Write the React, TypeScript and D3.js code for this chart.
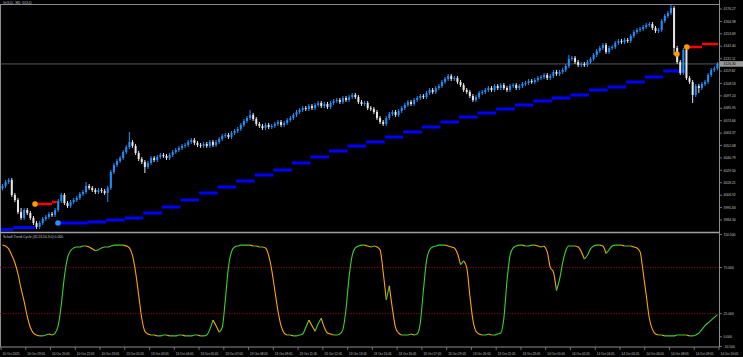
import React from "react";
import * as d3 from "d3";

// ---------- DATA ----------
const closes: number[] = [
  4015.3, 4018.9, 4020.7, 4007.1, 4002.5, 3991.6, 3986.2, 3993.4, 3990.7, 3986.2,
  3981.6, 3978.0, 3981.6, 3985.3, 3987.1, 3989.8, 3988.9, 3993.4, 4001.6, 4007.1,
  3999.8, 3997.1, 4000.7, 4002.5, 4004.4, 4008.0, 4009.8, 4015.3, 4013.5, 4011.6,
  4009.8, 4011.6, 4010.7, 4008.9, 4013.5, 4028.0, 4034.4, 4038.0, 4040.7, 4046.2,
  4050.7, 4055.3, 4051.7, 4045.3, 4039.8, 4037.1, 4032.6, 4036.2, 4040.7, 4038.9,
  4041.7, 4043.5, 4042.6, 4040.7, 4043.5, 4046.2, 4048.0, 4049.8, 4051.7, 4052.6,
  4055.3, 4057.1, 4054.4, 4052.6, 4051.7, 4053.5, 4051.7, 4055.3, 4052.6, 4055.3,
  4058.0, 4060.8, 4061.7, 4059.9, 4063.5, 4065.3, 4067.1, 4070.8, 4074.4, 4077.1,
  4079.9, 4076.2, 4071.7, 4069.9, 4068.0, 4070.8, 4068.9, 4069.9, 4071.7, 4073.5,
  4070.8, 4072.6, 4075.3, 4077.1, 4079.9, 4082.6, 4084.4, 4086.2, 4085.3, 4088.0,
  4086.2, 4089.0, 4090.8, 4088.0, 4089.9, 4087.1, 4090.8, 4092.6, 4093.5, 4091.7,
  4095.3, 4093.5, 4096.2, 4098.1, 4096.2, 4091.7, 4089.9, 4090.8, 4086.2, 4085.3,
  4082.6, 4077.1, 4073.5, 4071.7, 4077.1, 4080.8, 4082.6, 4079.9, 4083.5, 4086.2,
  4089.0, 4091.7, 4089.9, 4093.5, 4095.3, 4097.1, 4096.2, 4099.9, 4102.6, 4100.8,
  4104.4, 4106.2, 4109.9, 4112.6, 4115.3, 4112.6, 4113.5, 4109.9, 4107.1, 4102.6,
  4100.8, 4097.1, 4093.5, 4096.2, 4099.9, 4100.8, 4102.6, 4104.4, 4102.6, 4106.2,
  4104.4, 4107.1, 4104.4, 4102.6, 4106.2, 4107.1, 4104.4, 4106.2, 4108.1, 4109.0,
  4110.8, 4109.9, 4111.7, 4113.5, 4114.4, 4116.2, 4113.5, 4115.3, 4119.0, 4117.2,
  4119.0, 4120.8, 4124.4, 4130.8, 4131.7, 4128.1, 4125.3, 4126.3, 4125.3, 4128.1,
  4130.8, 4134.4, 4138.1, 4140.8, 4143.5, 4137.2, 4140.8, 4141.7, 4145.4, 4147.2,
  4146.3, 4148.1, 4147.2, 4151.7, 4155.4, 4157.2, 4158.1, 4159.9, 4161.7, 4162.6,
  4159.0, 4156.3, 4157.2, 4165.4, 4169.9, 4172.6, 4177.2, 4140.8, 4128.1, 4118.1,
  4139.0, 4113.5, 4109.9, 4098.1, 4106.2, 4104.4, 4108.1, 4109.9, 4116.2, 4120.8,
  4122.2, 4126.3,
];
const firstOpen = 4013.0;
const wickSize = 1.8;
const spikeHighs: [number, number][] = [
  [6, 3995.3], [27, 4018.9], [41, 4064.4], [80, 4084.4], [183, 4134.4], [216, 4179.9],
];
const spikeLows: [number, number][] = [
  [11, 3976.2], [34, 4000.7], [46, 4027.1], [123, 4069.9], [152, 4091.7],
  [217, 4134.4], [223, 4090.8], [225, 4099.9],
];

// trailing support (blue) and resistance (red) steps: [fromBar, toBar, price]
const supportSteps: [number, number, number][] = [
  [0, 4, 3975.8], [4, 11, 3977.6],
  [18.4, 28, 3981.6], [28, 34, 3982.5], [34, 40, 3984.3], [40, 46, 3986.2],
  [46, 52, 3990.7], [52, 58, 3996.2], [58, 64, 4002.5], [64, 70, 4008.9],
  [70, 76, 4014.4], [76, 82, 4019.8], [82, 88, 4025.3], [88, 94, 4029.8],
  [94, 100, 4036.2], [100, 106, 4041.7], [106, 112, 4047.1], [112, 118, 4051.7],
  [118, 124, 4055.3], [124, 130, 4059.9], [130, 136, 4064.4], [136, 142, 4068.9],
  [142, 148, 4073.5], [148, 154, 4078.0], [154, 160, 4081.7], [160, 166, 4085.3],
  [166, 172, 4089.0], [172, 178, 4092.6], [178, 184, 4095.3], [184, 190, 4098.1],
  [190, 196, 4102.6], [196, 202, 4105.3], [202, 208, 4109.9], [208, 214, 4114.4],
  [214, 221, 4119.9],
];
const resistSteps: [number, number, number][] = [
  [11, 16.5, 3998.9], [16.5, 18, 4000.7],
  [221.6, 226.5, 4141.7], [226.5, 231.7, 4144.4],
];
const blueDots: [number, number][] = [[18.4, 3981.6]];
const orangeDots: [number, number][] = [[11, 3998.9], [218.4, 4135.3], [221.6, 4141.7]];

const stc: number[] = [
  99, 98, 95, 88, 80, 68, 52, 38, 22, 10,
  4, 2, 1, 1, 2, 3, 2, 4, 12, 35,
  65, 85, 93, 96, 97, 97, 98, 98, 97, 95,
  93, 94, 96, 97, 97, 98, 99, 99, 99, 99,
  98, 96, 88, 70, 45, 20, 6, 3, 2, 2,
  1, 1, 2, 2, 1, 1, 1, 2, 2, 1,
  1, 1, 2, 2, 1, 1, 2, 8, 18, 12,
  5, 10, 40, 75, 92, 97, 98, 99, 99, 99,
  99, 98, 98, 97, 97, 96, 88, 72, 50, 28,
  12, 4, 2, 2, 1, 1, 2, 3, 10, 18,
  12, 6, 14, 20, 10, 4, 3, 2, 2, 3,
  8, 30, 65, 88, 96, 98, 99, 99, 98, 97,
  98, 97, 94, 70, 40, 55, 30, 10, 4, 2,
  2, 2, 3, 2, 3, 15, 50, 82, 94, 97,
  98, 99, 99, 99, 98, 97, 96, 90, 78, 82,
  75, 45, 18, 6, 3, 2, 2, 3, 2, 2,
  3, 4, 20, 60, 88, 96, 98, 99, 99, 98,
  98, 99, 99, 98, 97, 98, 92, 75, 70, 50,
  62, 80, 93, 98, 98, 98, 97, 92, 84, 88,
  95, 98, 99, 99, 98, 90, 94, 98, 99, 99,
  99, 98, 98, 98, 97, 96, 92, 70, 45, 20,
  8, 3, 2, 2, 1, 1, 1, 1, 2, 2,
  2, 2, 1, 1, 2, 4, 8, 12, 15, 18,
  21, 24,
];

const priceTicks = [
  4176.27, 4164.98, 4153.69, 4142.4, 4131.11, 4119.82, 4108.53, 4097.24, 4085.95,
  4074.66, 4063.37, 4052.08, 4040.79, 4029.5, 4018.21, 4006.92, 3995.63, 3984.34,
];
const stcTicks = [110.5, 75, 25, 0, -10.5];
const stcLevels = [75, 25];
const timeLabels = [
  "10 Oct 2025", "10 Oct 19:05", "10 Oct 20:05", "10 Oct 22:05", "10 Oct 23:05",
  "13 Oct 01:05", "13 Oct 03:05", "13 Oct 04:05", "13 Oct 05:05", "13 Oct 07:05",
  "13 Oct 08:05", "13 Oct 09:05", "13 Oct 11:05", "13 Oct 12:05", "13 Oct 13:05",
  "13 Oct 15:05", "13 Oct 16:05", "13 Oct 17:05", "13 Oct 19:05", "13 Oct 20:05",
  "13 Oct 21:05", "13 Oct 23:05", "14 Oct 01:05", "14 Oct 02:05", "14 Oct 04:05",
  "14 Oct 05:05", "14 Oct 06:05", "14 Oct 08:05", "14 Oct 09:05", "14 Oct 10:05",
];
const barsPerLabel = 8;
const titleText = "GOLD., M5: GOLD";
const stcTitle = "Schaff Trend Cycle (32,23,50,3.0) 0.000";

// ---------- CHART ----------
export default function App() {
  React.useEffect(() => {
    document.body.style.margin = "0";
    document.body.style.background = "#000";
  }, []);

  const W = 743, H = 357;
  const axisX = 719.5;
  const x = d3.scaleLinear().domain([0, 232]).range([1, 719]);
  const cx = (i: number) => x(i) + 1.5;
  const yP = d3.scaleLinear().domain([3984.34, 4176.27]).range([220, 9]);
  const yS = d3.scaleLinear().domain([-10.5, 110.5]).range([346.5, 234.5]);

  const hiMap = new Map(spikeHighs);
  const loMap = new Map(spikeLows);
  const up = "#1e90ff", down = "#e6e6e6";
  const fs = 3.4;
  const txt = "#c4c4c4";

  const candles = closes.map((c, i) => {
    const o = i === 0 ? firstOpen : closes[i - 1];
    const hi = hiMap.get(i) ?? Math.max(o, c) + wickSize;
    const lo = loMap.get(i) ?? Math.min(o, c) - wickSize;
    const col = c >= o ? up : down;
    const top = yP(Math.max(o, c)), bot = yP(Math.min(o, c));
    return (
      <g key={i}>
        <line x1={cx(i)} x2={cx(i)} y1={yP(hi)} y2={yP(lo)} stroke={col} strokeWidth={1} />
        <rect x={cx(i) - 1} y={top} width={2} height={Math.max(0.8, bot - top)} fill={col} />
      </g>
    );
  });

  // STC colored segments
  const segs: { col: string; pts: [number, number][] }[] = [];
  for (let i = 1; i < stc.length; i++) {
    const col = stc[i] >= stc[i - 1] ? "#3fcf2f" : "#ffa500";
    const p0: [number, number] = [cx(i - 1), yS(stc[i - 1])];
    const p1: [number, number] = [cx(i), yS(stc[i])];
    const last = segs[segs.length - 1];
    if (last && last.col === col) last.pts.push(p1);
    else segs.push({ col, pts: [p0, p1] });
  }
  const lineGen = d3.line<[number, number]>().curve(d3.curveMonotoneX);

  const lastClose = closes[closes.length - 1];

  return (
    <svg
      width={W}
      height={H}
      style={{ display: "block", position: "absolute", left: 0, top: 0, background: "#000" }}
      fontFamily="'Liberation Sans', Arial, sans-serif"
    >
      <rect x={0} y={0} width={W} height={H} fill="#000" />
      <defs>
        <clipPath id="mainClip">
          <rect x={0} y={5} width={719} height={226.5} />
        </clipPath>
        <clipPath id="stcClip">
          <rect x={0} y={233.5} width={719} height={113} />
        </clipPath>
      </defs>

      {/* frame */}
      <line x1={0} x2={axisX} y1={4.5} y2={4.5} stroke="#8c8c8c" strokeWidth={1} />
      <line x1={0.5} x2={0.5} y1={4.5} y2={347} stroke="#8c8c8c" strokeWidth={1} />
      <line x1={0} x2={axisX} y1={232.5} y2={232.5} stroke="#a0a0a0" strokeWidth={1.5} />
      <line x1={0} x2={axisX} y1={347} y2={347} stroke="#8c8c8c" strokeWidth={1} />
      <line x1={axisX} x2={axisX} y1={0} y2={347} stroke="#8c8c8c" strokeWidth={1} />

      <text x={3} y={4} fontSize={fs} fill={txt}>{titleText}</text>

      {/* main pane */}
      <g clipPath="url(#mainClip)">
        <line x1={0} x2={axisX} y1={yP(lastClose)} y2={yP(lastClose)} stroke="#707070" strokeWidth={0.8} />
        {supportSteps.map(([a, b, p], k) => (
          <line key={"s" + k} x1={x(a)} x2={x(b)} y1={yP(p)} y2={yP(p)} stroke="#0000ff" strokeWidth={3} />
        ))}
        {resistSteps.map(([a, b, p], k) => (
          <line key={"r" + k} x1={x(a)} x2={x(b)} y1={yP(p)} y2={yP(p)} stroke="#ff0000" strokeWidth={2.5} />
        ))}
        {candles}
        {blueDots.map(([b, p], k) => (
          <circle key={"bd" + k} cx={x(b)} cy={yP(p)} r={2.8} fill="#2f8cff" />
        ))}
        {orangeDots.map(([b, p], k) => (
          <circle key={"od" + k} cx={x(b)} cy={yP(p)} r={2.8} fill="#ff9a00" />
        ))}
      </g>

      {/* price axis */}
      {priceTicks.map((p, k) => (
        <g key={"pt" + k}>
          <line x1={axisX} x2={axisX + 2.5} y1={yP(p)} y2={yP(p)} stroke="#8c8c8c" strokeWidth={0.8} />
          <text x={723.5} y={yP(p)} dy="0.35em" fontSize={fs} fill={txt}>{p.toFixed(2)}</text>
        </g>
      ))}
      <rect x={720} y={yP(lastClose) - 2.8} width={23} height={5.6} fill="#9a9a9a" />
      <text x={723.5} y={yP(lastClose)} dy="0.35em" fontSize={fs} fill="#000">{lastClose.toFixed(2)}</text>

      {/* STC pane */}
      <text x={3} y={238} fontSize={fs} fill={txt}>{stcTitle}</text>
      <g clipPath="url(#stcClip)">
        {stcLevels.map((v) => (
          <line key={"lv" + v} x1={0} x2={axisX} y1={yS(v)} y2={yS(v)} stroke="#b01010" strokeWidth={0.9} strokeDasharray="1 1.6" />
        ))}
        {segs.map((s, k) => (
          <path key={"sg" + k} d={lineGen(s.pts) || ""} fill="none" stroke={s.col} strokeWidth={1.1} />
        ))}
      </g>
      {stcTicks.map((v) => (
        <g key={"st" + v}>
          <line x1={axisX} x2={axisX + 2.5} y1={yS(v)} y2={yS(v)} stroke="#8c8c8c" strokeWidth={0.8} />
          <text x={723.5} y={yS(v)} dy="0.35em" fontSize={fs} fill={txt}>{v.toFixed(3)}</text>
        </g>
      ))}

      {/* time axis */}
      {timeLabels.map((t, k) => {
        const tx = x(k * barsPerLabel);
        return (
          <g key={"tl" + k}>
            <line x1={tx} x2={tx} y1={347} y2={350} stroke="#8c8c8c" strokeWidth={0.8} />
            <text x={tx + 1.5} y={354.5} fontSize={3.1} fill={txt}>{t}</text>
          </g>
        );
      })}
    </svg>
  );
}
